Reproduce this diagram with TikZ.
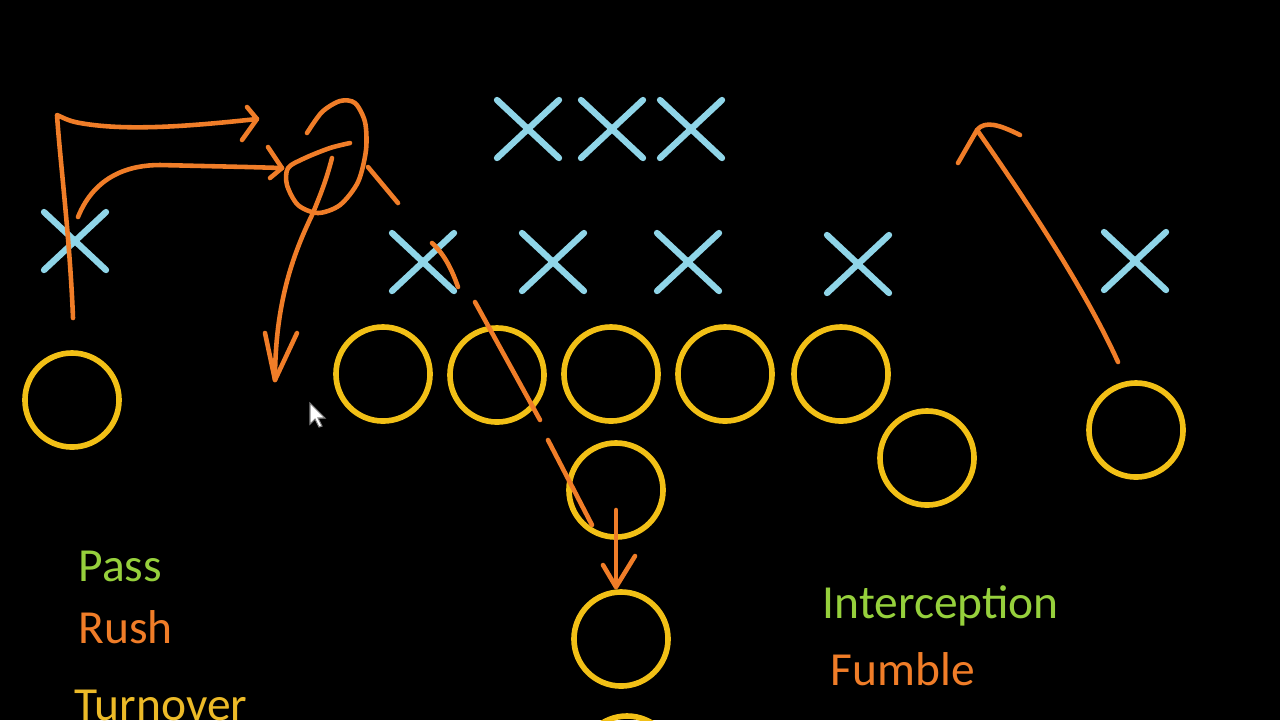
\documentclass[tikz,border=0pt]{standalone}
\usepackage{fontspec}
\setmainfont{Carlito}
\usepackage{tikz}
\definecolor{playblue}{RGB}{143,213,232}
\definecolor{playgold}{RGB}{242,192,22}
\definecolor{routeorange}{RGB}{240,125,40}
\definecolor{labelgreen}{RGB}{150,208,60}
\definecolor{labelgold}{RGB}{236,186,40}

\begin{document}
\begin{tikzpicture}[x=0.01cm, y=-0.01cm,
    defender/.style={color=playblue, line width=1.8pt, line cap=round},
    blocker/.style={color=playgold, line width=1.6pt},
    route/.style={color=routeorange, line width=1.3pt, line cap=round, line join=round},
    legend/.style={font=\fontsize{13.5}{16}\selectfont, anchor=base west, inner sep=0pt}]
  % draws the board
  \fill[black] (0,0) rectangle (1280,720);
  \useasboundingbox (0,0) rectangle (1280,720);
  \clip (0,0) rectangle (1280,720);

  % draws the defence
  \foreach \x/\y in {528/129, 612/129, 691/129, 75/241, 423/262, 553/262, 688/262, 858/264, 1135/261}
    \draw[defender] (\x-31,\y-29) -- (\x+31,\y+29) (\x-31,\y+29) -- (\x+31,\y-29);

  % draws the offence
  \foreach \x/\y in {72/400, 383/374, 497/375, 611/374, 725/374, 841/374, 927/458, 616/490, 1136/430, 621/639, 627/763}
    \draw[blocker] (\x,\y) circle [radius=0.47cm];

  % draws the routes
  \draw[route] (73,318) .. controls (70,240) and (60,160) .. (57,115) .. controls (62,117) and (68,121) .. (80,123) .. controls (130,132) and (200,125) .. (257,119);
  \draw[route] (247,107) -- (257,119) -- (242,140);
  \draw[route] (78,217) .. controls (95,175) and (130,165) .. (160,165) -- (247,167) -- (282,168);
  \draw[route] (268,147) -- (282,168) -- (270,178);
  \draw[route] plot[smooth] coordinates {(307,133) (322,112) (340,101) (355,103) (365,122) (366,150) (358,182) (340,205) (318,213) (298,205) (287,185) (288,168) (305,158) (330,148) (350,143)};
  \draw[route] (332,158) .. controls (325,185) and (318,200) .. (313,213) .. controls (295,250) and (275,300) .. (275,380);
  \draw[route] (265,333) -- (275,380) -- (297,333);
  \draw[route] (368,167) -- (398,203);
  \draw[route] (432,243) .. controls (445,255) and (452,270) .. (458,287);
  \draw[route] (475,302) -- (540,420);
  \draw[route] (548,440) -- (592,525);
  \draw[route] (616,510) -- (616,587);
  \draw[route] (603,565) -- (616,587) -- (635,556);
  \draw[route] (1118,362) .. controls (1090,300) and (1040,220) .. (977,130);
  \draw[route] (958,163) -- (977,130) .. controls (985,120) and (1000,125) .. (1020,135);

  % the pointer
  \draw[fill=white, draw=gray, line width=0.3pt] (310,403) -- (310,424) -- (315,419) -- (319,427) -- (322,426) -- (318,418) -- (325,418) -- cycle;

  % the legend
  \node[legend, text=labelgreen] (pass) at (78,581) {Pass};
  \node[legend, text=routeorange] (rush) at (78,643) {Rush};
  \node[legend, text=labelgold] (turnover) at (74,720) {Turnover};
  \node[legend, text=labelgreen] (interception) at (822,618) {Interception};
  \node[legend, text=routeorange] (fumble) at (830,685) {Fumble};
\end{tikzpicture}
\end{document}
